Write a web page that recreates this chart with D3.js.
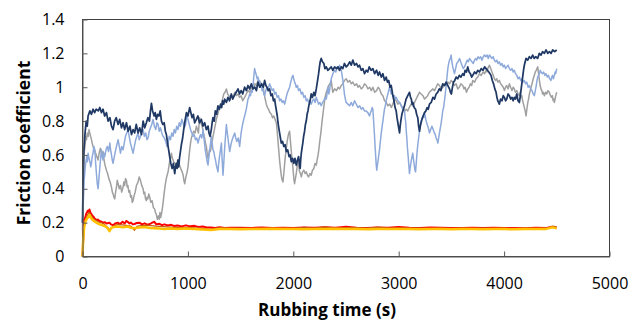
<!DOCTYPE html>
<html>
<head>
<meta charset="utf-8">
<script src="https://cdn.jsdelivr.net/npm/d3@7"></script>
<style>
	body { margin: 0; background: #fff; }
	.tick text { font-family: "Open Sans", sans-serif; font-size: 16px; fill: #000; }
	.axis-title { font-family: "Open Sans", sans-serif; font-weight: bold; fill: #000; }
</style>
</head>
<body>
<div id="frictionChart"></div>
<script>
// rubbing time (s) / friction coefficient pairs, one array per test
const navy = [[0,0.2],[6,0.45],[12,0.62],[23,0.72],[35,0.80],[45,0.77],[53,0.83],[70,0.86],[85,0.84],[100,0.87],[115,0.85],[130,0.87],[150,0.86],[164,0.88],[180,0.85],[195,0.87],[210,0.83],[227,0.85],[243,0.80],[260,0.82],[275,0.77],[290,0.75],[305,0.80],[320,0.82],[338,0.78],[353,0.81],[370,0.76],[385,0.79],[400,0.75],[417,0.79],[433,0.74],[450,0.77],[465,0.72],[480,0.75],[495,0.73],[510,0.78],[527,0.73],[543,0.76],[560,0.72],[575,0.80],[590,0.76],[606,0.79],[620,0.82],[635,0.80],[645,0.86],[654,0.905],[665,0.86],[680,0.83],[690,0.85],[701,0.81],[713,0.84],[725,0.83],[737,0.86],[749,0.80],[762,0.78],[775,0.79],[786,0.74],[796,0.72],[805,0.68],[812,0.65],[820,0.62],[827,0.59],[838,0.55],[850,0.52],[862,0.55],[875,0.49],[883,0.53],[890,0.55],[898,0.52],[906,0.57],[913,0.53],[920,0.58],[929,0.62],[938,0.66],[950,0.70],[960,0.75],[972,0.80],[986,0.85],[1000,0.83],[1017,0.88],[1028,0.85],[1040,0.82],[1052,0.84],[1064,0.79],[1080,0.81],[1095,0.83],[1110,0.79],[1128,0.81],[1143,0.77],[1159,0.79],[1175,0.75],[1191,0.77],[1200,0.73],[1210,0.71],[1222,0.75],[1230,0.79],[1238,0.82],[1250,0.80],[1260,0.86],[1272,0.84],[1285,0.89],[1298,0.87],[1310,0.90],[1320,0.88],[1330,0.92],[1340,0.90],[1349,0.93],[1365,0.91],[1380,0.94],[1395,0.92],[1412,0.96],[1425,0.93],[1440,0.95],[1458,0.97],[1476,0.99],[1490,0.96],[1505,0.98],[1520,0.96],[1538,1.00],[1555,0.98],[1570,1.01],[1585,0.99],[1602,1.02],[1618,0.99],[1635,1.00],[1650,0.98],[1665,1.03],[1682,1.00],[1700,1.02],[1715,1.00],[1728,1.04],[1740,1.01],[1750,1.00],[1762,0.98],[1775,0.99],[1788,0.95],[1800,0.96],[1812,0.92],[1823,0.93],[1832,0.89],[1840,0.86],[1848,0.83],[1855,0.79],[1862,0.76],[1870,0.73],[1878,0.70],[1886,0.67],[1898,0.68],[1910,0.65],[1922,0.66],[1934,0.62],[1947,0.63],[1960,0.59],[1970,0.60],[1981,0.56],[1993,0.58],[2005,0.55],[2016,0.58],[2028,0.54],[2040,0.57],[2050,0.59],[2058,0.55],[2065,0.52],[2070,0.57],[2076,0.61],[2083,0.64],[2090,0.67],[2098,0.71],[2107,0.74],[2115,0.78],[2123,0.80],[2131,0.84],[2139,0.86],[2147,0.89],[2155,0.91],[2162,0.93],[2170,0.96],[2182,0.94],[2195,0.97],[2206,0.95],[2218,0.99],[2228,1.03],[2240,1.08],[2248,1.12],[2255,1.15],[2265,1.17],[2277,1.15],[2290,1.14],[2300,1.11],[2313,1.12],[2328,1.10],[2344,1.11],[2360,1.12],[2375,1.10],[2392,1.12],[2410,1.11],[2425,1.12],[2439,1.10],[2455,1.12],[2470,1.11],[2485,1.14],[2502,1.12],[2518,1.13],[2535,1.15],[2550,1.13],[2565,1.16],[2582,1.13],[2600,1.14],[2614,1.12],[2628,1.13],[2645,1.10],[2660,1.11],[2676,1.08],[2692,1.10],[2706,1.09],[2720,1.12],[2738,1.10],[2755,1.11],[2772,1.08],[2790,1.10],[2805,1.07],[2818,1.09],[2835,1.06],[2850,1.08],[2866,1.04],[2881,1.06],[2893,1.03],[2905,1.04],[2918,1.00],[2929,1.01],[2942,0.96],[2955,0.92],[2966,0.88],[2976,0.86],[2984,0.82],[2992,0.79],[3000,0.76],[3008,0.73],[3014,0.77],[3020,0.80],[3030,0.84],[3039,0.86],[3055,0.89],[3070,0.93],[3086,0.95],[3102,0.97],[3112,0.94],[3120,0.93],[3127,0.90],[3134,0.91],[3147,0.88],[3160,0.87],[3170,0.84],[3181,0.82],[3189,0.77],[3197,0.74],[3208,0.78],[3220,0.81],[3232,0.83],[3245,0.85],[3258,0.86],[3270,0.88],[3280,0.87],[3292,0.90],[3308,0.91],[3325,0.94],[3340,0.93],[3355,0.96],[3370,0.97],[3385,0.99],[3400,0.98],[3418,1.02],[3435,1.01],[3450,1.03],[3466,1.01],[3482,0.99],[3491,0.97],[3500,0.96],[3510,1.00],[3520,1.03],[3532,1.04],[3545,1.06],[3560,1.05],[3575,1.07],[3590,1.06],[3608,1.08],[3620,1.07],[3630,1.10],[3643,1.09],[3655,1.12],[3668,1.09],[3680,1.08],[3692,1.06],[3703,1.07],[3720,1.09],[3735,1.08],[3750,1.10],[3766,1.09],[3783,1.11],[3800,1.10],[3815,1.12],[3829,1.11],[3842,1.10],[3855,1.09],[3866,1.08],[3876,1.07],[3888,1.04],[3900,1.02],[3912,0.99],[3924,0.97],[3932,0.94],[3940,0.92],[3948,0.91],[3955,0.90],[3967,0.93],[3980,0.92],[3992,0.95],[4003,0.94],[4014,0.92],[4025,0.93],[4038,0.96],[4050,0.95],[4062,0.93],[4075,0.94],[4086,0.92],[4097,0.94],[4108,0.93],[4120,0.96],[4132,0.92],[4145,0.91],[4152,0.94],[4160,0.98],[4168,1.02],[4176,1.06],[4184,1.10],[4192,1.13],[4200,1.15],[4208,1.17],[4224,1.16],[4240,1.18],[4256,1.17],[4271,1.19],[4286,1.17],[4300,1.18],[4318,1.17],[4334,1.20],[4350,1.19],[4365,1.21],[4382,1.20],[4398,1.22],[4414,1.20],[4430,1.21],[4446,1.20],[4461,1.22],[4480,1.21],[4499,1.22]];

const grey = [[0,0.15],[5,0.35],[10,0.5],[18,0.62],[25,0.66],[32,0.71],[38,0.69],[46,0.73],[55,0.71],[62,0.75],[69,0.73],[77,0.71],[85,0.69],[92,0.67],[100,0.65],[112,0.63],[125,0.61],[136,0.59],[148,0.57],[158,0.61],[170,0.64],[182,0.60],[195,0.62],[203,0.58],[210,0.55],[218,0.53],[227,0.51],[238,0.49],[250,0.46],[262,0.44],[275,0.41],[283,0.38],[290,0.37],[298,0.35],[306,0.34],[314,0.38],[322,0.41],[330,0.45],[338,0.43],[349,0.40],[360,0.42],[372,0.38],[385,0.41],[392,0.44],[400,0.42],[408,0.46],[417,0.45],[424,0.41],[430,0.42],[440,0.38],[448,0.39],[456,0.35],[465,0.36],[472,0.32],[480,0.33],[490,0.36],[500,0.38],[512,0.42],[527,0.44],[538,0.47],[550,0.45],[562,0.42],[575,0.40],[582,0.37],[590,0.38],[598,0.34],[606,0.33],[613,0.35],[620,0.34],[629,0.37],[638,0.35],[648,0.32],[660,0.33],[672,0.29],[685,0.28],[692,0.26],[700,0.25],[710,0.22],[720,0.24],[728,0.22],[735,0.26],[742,0.23],[749,0.25],[757,0.28],[765,0.32],[772,0.36],[780,0.40],[787,0.43],[795,0.46],[803,0.48],[812,0.50],[819,0.53],[827,0.56],[835,0.58],[843,0.61],[853,0.58],[865,0.56],[878,0.55],[891,0.53],[903,0.57],[915,0.55],[926,0.53],[938,0.51],[946,0.50],[955,0.48],[962,0.45],[970,0.43],[978,0.46],[985,0.48],[993,0.50],[1001,0.53],[1009,0.58],[1017,0.63],[1025,0.67],[1033,0.70],[1044,0.72],[1055,0.74],[1068,0.73],[1081,0.77],[1090,0.75],[1100,0.73],[1106,0.78],[1112,0.82],[1123,0.79],[1135,0.77],[1147,0.73],[1159,0.70],[1167,0.67],[1175,0.65],[1183,0.61],[1191,0.58],[1198,0.60],[1205,0.63],[1213,0.62],[1222,0.65],[1233,0.69],[1245,0.73],[1258,0.77],[1270,0.81],[1283,0.84],[1295,0.87],[1307,0.88],[1318,0.90],[1329,0.93],[1340,0.96],[1352,0.97],[1365,0.99],[1377,0.96],[1390,0.95],[1400,0.93],[1412,0.95],[1428,0.94],[1445,0.97],[1460,0.95],[1476,0.96],[1490,0.94],[1505,0.95],[1520,0.92],[1538,0.94],[1554,0.96],[1570,0.98],[1586,0.97],[1602,1.00],[1618,0.99],[1635,1.02],[1650,1.01],[1665,1.04],[1678,1.02],[1690,1.03],[1702,1.00],[1713,1.01],[1722,0.97],[1730,0.94],[1737,0.92],[1744,0.90],[1755,0.88],[1765,0.87],[1778,0.85],[1792,0.84],[1803,0.82],[1815,0.83],[1827,0.81],[1839,0.79],[1847,0.74],[1855,0.68],[1863,0.62],[1871,0.56],[1880,0.51],[1888,0.47],[1895,0.45],[1902,0.44],[1910,0.49],[1918,0.55],[1926,0.60],[1934,0.64],[1942,0.68],[1950,0.71],[1958,0.73],[1965,0.74],[1973,0.68],[1981,0.62],[1989,0.57],[1997,0.52],[2005,0.46],[2012,0.43],[2020,0.46],[2028,0.49],[2036,0.53],[2044,0.56],[2052,0.53],[2060,0.50],[2068,0.49],[2076,0.47],[2088,0.50],[2100,0.51],[2112,0.49],[2123,0.50],[2134,0.48],[2145,0.47],[2158,0.49],[2170,0.48],[2182,0.51],[2195,0.52],[2206,0.55],[2218,0.54],[2226,0.57],[2235,0.60],[2242,0.63],[2249,0.67],[2257,0.71],[2265,0.75],[2273,0.80],[2281,0.84],[2289,0.88],[2297,0.92],[2305,0.95],[2313,0.97],[2324,0.99],[2335,1.01],[2348,1.02],[2360,1.04],[2368,1.00],[2375,0.97],[2392,0.99],[2410,0.98],[2425,1.00],[2439,0.99],[2455,1.01],[2470,1.02],[2485,1.04],[2502,1.05],[2518,1.03],[2535,1.04],[2550,1.02],[2565,1.03],[2582,1.01],[2600,1.02],[2614,1.00],[2628,1.01],[2645,0.99],[2660,1.00],[2676,1.02],[2692,1.01],[2708,0.99],[2725,1.00],[2740,0.98],[2755,1.00],[2772,0.97],[2790,0.98],[2805,1.00],[2818,0.99],[2835,0.96],[2850,0.95],[2866,0.92],[2881,0.91],[2898,0.89],[2915,0.90],[2930,0.88],[2944,0.90],[2960,0.93],[2976,0.92],[2992,0.90],[3008,0.91],[3024,0.89],[3040,0.88],[3056,0.86],[3071,0.87],[3086,0.86],[3100,0.88],[3117,0.90],[3134,0.89],[3150,0.91],[3165,0.93],[3181,0.95],[3197,0.97],[3213,0.96],[3230,0.95],[3245,0.93],[3261,0.94],[3275,0.95],[3290,0.97],[3307,0.98],[3323,0.99],[3340,0.98],[3355,1.00],[3370,1.02],[3387,1.01],[3403,0.99],[3420,1.00],[3435,1.02],[3450,1.01],[3466,1.03],[3482,1.02],[3497,1.04],[3513,1.03],[3529,1.01],[3545,1.02],[3560,0.99],[3575,1.00],[3590,1.02],[3608,1.01],[3620,0.99],[3630,1.00],[3643,0.97],[3655,0.99],[3668,1.00],[3680,1.02],[3692,1.01],[3703,1.04],[3720,1.03],[3735,1.05],[3750,1.06],[3766,1.08],[3783,1.07],[3800,1.09],[3815,1.08],[3829,1.10],[3837,1.09],[3845,1.11],[3853,1.12],[3861,1.13],[3873,1.11],[3885,1.09],[3897,1.07],[3908,1.05],[3920,1.04],[3930,1.05],[3942,1.03],[3955,1.04],[3967,1.02],[3980,1.01],[3992,1.00],[4003,0.98],[4014,1.00],[4025,1.01],[4038,0.99],[4050,1.02],[4062,1.00],[4075,0.98],[4086,1.00],[4097,0.99],[4108,0.97],[4120,0.98],[4132,0.96],[4145,0.95],[4152,0.97],[4160,0.94],[4168,0.95],[4176,0.92],[4184,0.90],[4192,0.88],[4200,0.86],[4208,0.83],[4216,0.87],[4225,0.91],[4232,0.93],[4240,0.96],[4252,0.99],[4265,1.02],[4276,1.05],[4287,1.07],[4296,1.09],[4305,1.10],[4312,1.11],[4319,1.12],[4327,1.08],[4335,1.04],[4342,1.01],[4350,0.99],[4358,0.98],[4365,0.96],[4373,0.97],[4382,0.95],[4394,0.97],[4405,0.96],[4417,0.98],[4429,0.97],[4440,0.95],[4450,0.94],[4458,0.95],[4465,0.92],[4471,0.93],[4477,0.91],[4484,0.93],[4490,0.95],[4499,0.97]];

const lightBlue = [[0,0.2],[5,0.28],[10,0.36],[16,0.45],[22,0.50],[30,0.55],[40,0.59],[46,0.56],[53,0.61],[61,0.58],[70,0.56],[78,0.53],[85,0.55],[92,0.59],[100,0.61],[108,0.65],[117,0.63],[124,0.56],[132,0.49],[140,0.43],[148,0.40],[156,0.46],[165,0.53],[172,0.58],[180,0.63],[188,0.59],[195,0.57],[203,0.61],[211,0.59],[223,0.63],[235,0.65],[247,0.62],[259,0.67],[267,0.63],[275,0.60],[282,0.57],[290,0.55],[302,0.59],[315,0.63],[326,0.66],[338,0.69],[349,0.65],[360,0.61],[372,0.65],[385,0.63],[396,0.67],[408,0.71],[420,0.73],[432,0.75],[443,0.71],[455,0.67],[467,0.64],[480,0.61],[492,0.65],[505,0.69],[516,0.71],[527,0.73],[538,0.69],[550,0.71],[562,0.74],[575,0.75],[587,0.71],[600,0.73],[611,0.69],[622,0.70],[633,0.74],[645,0.76],[657,0.78],[669,0.81],[682,0.77],[695,0.75],[706,0.79],[717,0.78],[728,0.74],[740,0.76],[752,0.73],[764,0.71],[777,0.70],[790,0.68],[801,0.65],[812,0.67],[823,0.71],[835,0.69],[847,0.73],[859,0.71],[870,0.75],[882,0.73],[894,0.77],[906,0.75],[918,0.79],[930,0.77],[942,0.81],[954,0.79],[966,0.76],[978,0.78],[990,0.83],[1001,0.81],[1013,0.78],[1025,0.75],[1037,0.73],[1049,0.71],[1060,0.72],[1072,0.69],[1084,0.70],[1096,0.67],[1108,0.70],[1120,0.72],[1132,0.70],[1144,0.75],[1152,0.70],[1159,0.66],[1167,0.62],[1175,0.59],[1183,0.56],[1191,0.54],[1199,0.59],[1207,0.63],[1215,0.67],[1222,0.71],[1230,0.67],[1238,0.63],[1246,0.62],[1254,0.59],[1262,0.57],[1270,0.54],[1278,0.52],[1285,0.50],[1292,0.55],[1300,0.59],[1309,0.63],[1318,0.67],[1325,0.57],[1333,0.48],[1341,0.56],[1350,0.65],[1358,0.72],[1365,0.78],[1372,0.74],[1380,0.70],[1388,0.66],[1396,0.62],[1408,0.66],[1420,0.69],[1432,0.71],[1444,0.73],[1454,0.70],[1465,0.68],[1478,0.70],[1491,0.65],[1498,0.69],[1505,0.73],[1513,0.76],[1522,0.79],[1530,0.81],[1538,0.83],[1546,0.85],[1554,0.87],[1562,0.90],[1570,0.93],[1578,0.94],[1586,0.96],[1594,0.95],[1602,0.98],[1610,0.97],[1617,1.00],[1625,1.06],[1633,1.11],[1641,1.09],[1650,1.07],[1657,1.05],[1665,1.06],[1672,1.03],[1680,1.04],[1688,1.00],[1697,1.02],[1704,0.98],[1712,0.99],[1720,0.96],[1728,0.95],[1739,0.98],[1750,1.00],[1762,0.99],[1775,1.02],[1788,1.00],[1800,0.98],[1812,0.99],[1823,0.96],[1835,0.97],[1847,0.94],[1859,0.95],[1871,0.92],[1883,0.93],[1895,0.91],[1906,0.92],[1918,0.90],[1929,0.93],[1940,0.96],[1952,0.98],[1965,1.00],[1972,1.02],[1980,1.04],[1988,1.06],[1997,1.07],[2004,1.05],[2012,1.03],[2020,1.02],[2028,1.00],[2039,1.01],[2050,0.98],[2063,0.99],[2076,0.96],[2088,0.97],[2100,0.94],[2112,0.95],[2123,0.92],[2134,0.93],[2145,0.91],[2158,0.92],[2170,0.90],[2182,0.92],[2195,0.93],[2206,0.91],[2218,0.94],[2229,0.92],[2240,0.90],[2252,0.91],[2265,0.89],[2278,0.91],[2290,0.92],[2302,0.94],[2313,0.93],[2322,0.97],[2330,1.00],[2337,0.96],[2344,0.98],[2352,1.02],[2360,1.05],[2376,1.08],[2392,1.10],[2404,1.09],[2415,1.12],[2427,1.11],[2439,1.13],[2447,1.11],[2455,1.10],[2463,1.07],[2470,1.04],[2478,1.00],[2485,0.96],[2494,0.93],[2502,0.91],[2518,0.90],[2534,0.89],[2550,0.91],[2565,0.89],[2581,0.92],[2597,0.90],[2614,0.88],[2630,0.89],[2645,0.87],[2660,0.88],[2675,0.86],[2690,0.86],[2707,0.85],[2723,0.83],[2732,0.85],[2740,0.86],[2748,0.88],[2755,0.87],[2762,0.80],[2770,0.72],[2776,0.65],[2782,0.59],[2787,0.54],[2792,0.51],[2798,0.54],[2805,0.57],[2811,0.60],[2818,0.63],[2826,0.68],[2835,0.73],[2843,0.77],[2850,0.80],[2858,0.84],[2865,0.87],[2873,0.89],[2881,0.92],[2889,0.94],[2897,0.96],[2905,0.98],[2913,1.00],[2921,0.98],[2930,0.96],[2937,0.97],[2944,0.95],[2952,0.94],[2960,0.95],[2968,0.93],[2976,0.94],[2992,0.92],[3008,0.91],[3019,0.90],[3030,0.88],[3042,0.87],[3055,0.86],[3061,0.82],[3067,0.79],[3072,0.74],[3077,0.70],[3083,0.64],[3090,0.59],[3096,0.54],[3102,0.49],[3110,0.53],[3118,0.56],[3126,0.59],[3134,0.61],[3141,0.57],[3148,0.54],[3154,0.51],[3160,0.50],[3165,0.54],[3170,0.58],[3175,0.62],[3181,0.66],[3189,0.70],[3197,0.74],[3205,0.77],[3213,0.80],[3221,0.81],[3229,0.83],[3237,0.82],[3245,0.85],[3257,0.81],[3270,0.78],[3281,0.76],[3292,0.73],[3303,0.75],[3315,0.77],[3327,0.75],[3339,0.73],[3347,0.72],[3355,0.70],[3363,0.69],[3371,0.67],[3379,0.70],[3387,0.73],[3395,0.76],[3403,0.79],[3410,0.82],[3418,0.86],[3426,0.88],[3434,0.92],[3442,0.96],[3450,1.01],[3458,1.06],[3466,1.11],[3474,1.14],[3482,1.16],[3490,1.17],[3497,1.19],[3505,1.15],[3513,1.12],[3521,1.10],[3529,1.08],[3540,1.11],[3550,1.14],[3563,1.15],[3577,1.17],[3588,1.15],[3600,1.13],[3612,1.11],[3624,1.12],[3637,1.14],[3650,1.16],[3661,1.15],[3672,1.17],[3684,1.16],[3695,1.15],[3707,1.14],[3719,1.16],[3730,1.17],[3740,1.16],[3753,1.18],[3766,1.17],[3778,1.18],[3790,1.16],[3802,1.18],[3814,1.19],[3827,1.18],[3840,1.19],[3850,1.17],[3861,1.19],[3873,1.18],[3885,1.17],[3896,1.18],[3908,1.16],[3919,1.15],[3930,1.16],[3942,1.14],[3955,1.15],[3967,1.13],[3980,1.14],[3992,1.12],[4003,1.13],[4014,1.11],[4025,1.12],[4038,1.13],[4050,1.11],[4062,1.10],[4075,1.11],[4086,1.09],[4097,1.10],[4108,1.08],[4120,1.07],[4132,1.05],[4145,1.06],[4158,1.04],[4170,1.05],[4181,1.03],[4192,1.04],[4204,1.02],[4215,1.03],[4228,1.00],[4240,1.01],[4252,0.99],[4265,0.98],[4276,0.96],[4287,0.95],[4296,0.98],[4305,1.01],[4312,1.04],[4319,1.06],[4327,1.07],[4335,1.08],[4343,1.10],[4350,1.09],[4362,1.08],[4375,1.09],[4387,1.07],[4398,1.08],[4410,1.06],[4420,1.07],[4432,1.05],[4445,1.04],[4452,1.06],[4460,1.07],[4468,1.05],[4477,1.07],[4484,1.09],[4490,1.08],[4499,1.11]];

const red = [[0,0],[4,0.06],[8,0.12],[13,0.19],[18,0.22],[26,0.23],[34,0.25],[42,0.26],[50,0.27],[58,0.265],[66,0.278],[75,0.26],[85,0.25],[95,0.24],[105,0.235],[114,0.225],[125,0.22],[135,0.215],[145,0.218],[160,0.21],[177,0.207],[192,0.2],[210,0.203],[230,0.195],[256,0.2],[270,0.19],[290,0.185],[310,0.195],[335,0.2],[355,0.19],[380,0.205],[400,0.195],[415,0.21],[429,0.205],[445,0.195],[460,0.2],[477,0.19],[493,0.192],[515,0.198],[540,0.2],[565,0.19],[588,0.196],[615,0.188],[640,0.192],[662,0.2],[682,0.205],[700,0.19],[730,0.193],[755,0.185],[777,0.19],[810,0.183],[840,0.187],[870,0.18],[903,0.183],[940,0.178],[980,0.184],[1020,0.178],[1062,0.181],[1100,0.175],[1140,0.177],[1180,0.172],[1219,0.171],[1260,0.168],[1300,0.173],[1350,0.169],[1400,0.17],[1500,0.17],[1600,0.168],[1700,0.172],[1800,0.169],[1900,0.17],[2000,0.168],[2100,0.171],[2200,0.17],[2300,0.173],[2400,0.17],[2500,0.176],[2600,0.17],[2700,0.168],[2800,0.172],[2900,0.17],[3000,0.174],[3100,0.17],[3200,0.168],[3300,0.171],[3400,0.17],[3500,0.169],[3600,0.168],[3700,0.17],[3800,0.168],[3900,0.17],[4000,0.168],[4100,0.169],[4200,0.167],[4300,0.17],[4400,0.168],[4450,0.175],[4499,0.172]];

const orange = [[0,0],[10,0.15],[30,0.22],[60,0.26],[100,0.225],[150,0.205],[200,0.195],[256,0.16],[300,0.18],[335,0.19],[400,0.185],[460,0.18],[493,0.155],[520,0.18],[600,0.185],[700,0.18],[800,0.175],[900,0.17],[1000,0.172],[1100,0.168],[1219,0.162],[1300,0.17],[1400,0.166],[1500,0.168],[1600,0.165],[1700,0.168],[1800,0.166],[1900,0.168],[2000,0.166],[2100,0.172],[2200,0.167],[2300,0.175],[2400,0.168],[2500,0.17],[2600,0.17],[2700,0.167],[2800,0.174],[2900,0.168],[3000,0.169],[3100,0.167],[3200,0.168],[3300,0.166],[3400,0.168],[3500,0.166],[3600,0.167],[3700,0.166],[3800,0.168],[3900,0.166],[4000,0.167],[4100,0.166],[4200,0.168],[4300,0.166],[4400,0.167],[4460,0.18],[4499,0.175]];

const yellow = [[0,0],[5,0.08],[15,0.17],[30,0.21],[50,0.23],[66,0.246],[90,0.22],[114,0.207],[145,0.195],[177,0.187],[210,0.18],[235,0.17],[256,0.15],[275,0.17],[300,0.175],[335,0.177],[380,0.172],[429,0.177],[460,0.17],[493,0.167],[540,0.172],[588,0.174],[640,0.168],[682,0.167],[730,0.165],[777,0.163],[840,0.165],[903,0.162],[980,0.165],[1062,0.163],[1140,0.16],[1219,0.157],[1300,0.162],[1400,0.163],[1500,0.161],[1600,0.163],[1700,0.162],[1800,0.164],[1900,0.162],[2000,0.163],[2100,0.161],[2200,0.163],[2300,0.162],[2400,0.164],[2500,0.162],[2600,0.163],[2700,0.161],[2800,0.163],[2900,0.162],[3000,0.163],[3100,0.162],[3200,0.161],[3300,0.163],[3400,0.162],[3500,0.161],[3600,0.163],[3700,0.162],[3800,0.161],[3900,0.163],[4000,0.162],[4100,0.161],[4200,0.163],[4300,0.162],[4400,0.163],[4460,0.172],[4499,0.166]];

const xTicks = [0, 1000, 2000, 3000, 4000, 5000];
const yTicks = [0, 0.2, 0.4, 0.6, 0.8, 1, 1.2, 1.4];

const series = [
	{ data: grey, color: "#a0a0a0", width: 1.5 },
	{ data: lightBlue, color: "#8eaadb", width: 1.5 },
	{ data: navy, color: "#1f3864", width: 1.75 },
	{ data: red, color: "#ff0000", width: 2 },
	{ data: orange, color: "#c55a11", width: 1.25 },
	{ data: yellow, color: "#ffc000", width: 2.5 }
];

// plot area edges in page pixels
const margin = { top: 19.5, right: 31.5, bottom: 64.5, left: 82.5 };
const fullWidth = 641, fullHeight = 321;
const width = fullWidth - margin.left - margin.right;
const height = fullHeight - margin.top - margin.bottom;

const svg = d3.select("#frictionChart").append("svg")
	.attr("width", fullWidth)
	.attr("height", fullHeight);

const g = svg.append("g")
	.attr("transform", "translate(" + margin.left + "," + margin.top + ")");

const x = d3.scaleLinear().domain([0, 5000]).range([0, width]);
const y = d3.scaleLinear().domain([0, 1.4]).range([height, 0]);

// plot area border
g.append("rect")
	.attr("width", width)
	.attr("height", height)
	.attr("fill", "none")
	.attr("stroke", "#404040")
	.attr("stroke-width", 1);

const line = d3.line()
	.x(d => x(d[0]))
	.y(d => y(d[1]));

series.forEach(s => {
	g.append("path")
		.datum(s.data)
		.attr("fill", "none")
		.attr("stroke", s.color)
		.attr("stroke-width", s.width)
		.attr("stroke-linejoin", "round")
		.attr("d", line);
});

// axes, ticks point inward
const xAxis = g.append("g")
	.attr("transform", "translate(0," + height + ")")
	.call(d3.axisBottom(x)
		.tickValues(xTicks)
		.tickSizeInner(-5)
		.tickSizeOuter(0)
		.tickPadding(21)
		.tickFormat(d3.format("d")));

const yAxis = g.append("g")
	.call(d3.axisLeft(y)
		.tickValues(yTicks)
		.tickSizeInner(-5)
		.tickSizeOuter(0)
		.tickPadding(18)
		.tickFormat(d => d3.format("")(+d.toFixed(1))));

[xAxis, yAxis].forEach(a => {
	a.select(".domain").attr("stroke", "#595959");
	a.selectAll(".tick line").attr("stroke", "#595959");
});

svg.append("text")
	.attr("class", "axis-title")
	.attr("x", 327)
	.attr("y", 316)
	.attr("text-anchor", "middle")
	.style("font-size", "17px")
	.text("Rubbing time (s)");

svg.append("text")
	.attr("class", "axis-title")
	.attr("transform", "translate(30,143) rotate(-90)")
	.attr("text-anchor", "middle")
	.style("font-size", "17.5px")
	.text("Friction coefficient");
</script>
</body>
</html>
